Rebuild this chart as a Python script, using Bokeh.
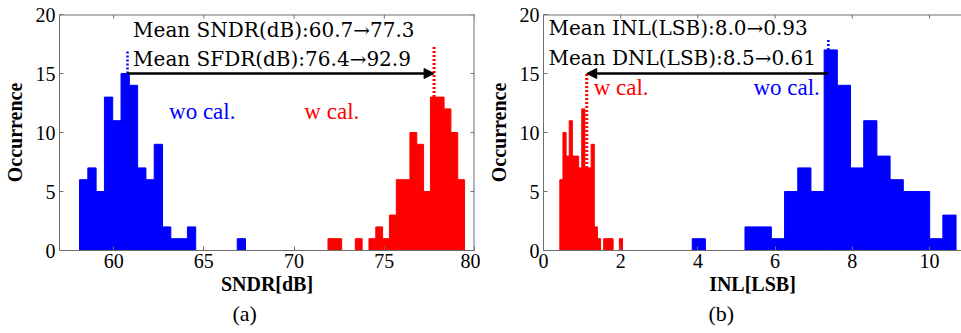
import numpy as np
from bokeh.plotting import figure
from bokeh.models import Range1d, Label, Arrow, NormalHead, FixedTicker, Title
from bokeh.layouts import row
from bokeh.embed import file_html
from bokeh.resources import INLINE

# ---------------- data ----------------
# (a) SNDR histograms: first bin edge, bin width, counts
sndr_wo_start = 58.11
sndr_wo_width = 0.46
sndr_wo_counts = [6, 7, 5, 13, 11, 15, 14, 7, 6, 9, 2, 1, 1, 2, 0, 0, 0, 0, 0, 1]
sndr_w_start = 71.88
sndr_w_width = 0.3785
sndr_w_counts = [1, 1, 0, 0, 1, 0, 1, 2, 1, 3, 6, 6, 10, 9, 5, 13, 13, 12, 10, 6]

# (b) INL histograms
inl_wo_start = 3.853
inl_wo_width = 0.3418
inl_wo_counts = [1, 0, 0, 0, 2, 2, 1, 5, 7, 5, 17, 14, 7, 11, 8, 6, 5, 5, 1, 3]
inl_w_start = 0.423
inl_w_width = 0.0812
inl_w_counts = [6, 10, 8, 11, 8, 8, 7, 12, 7, 7, 9, 2, 1, 0, 1, 1, 1, 0, 0, 1]

# marker (dotted) lines: x position, bottom, top
sndr_wo_mark = (60.77, 15, 16.9)
sndr_w_mark = (77.76, 13, 17.4)
inl_wo_mark = (7.38, 17, 17.9)
inl_w_mark = (1.12, 7, 15.0)
arrow_y = 15

sndr_range = (57, 80)
inl_range = (0, 10.83)
sndr_ticks = [60, 65, 70, 75, 80]
inl_ticks = [0, 2, 4, 6, 8, 10]
y_ticks = [0, 5, 10, 15, 20]

sndr_text = ["Mean SNDR(dB):60.7\u219277.3", "Mean SFDR(dB):76.4\u219292.9"]
inl_text = ["Mean INL(LSB):8.0\u21920.93", "Mean DNL(LSB):8.5\u21920.61"]

BLUE = "#0000ff"
RED = "#ff0000"
AXC = "#6e6e6e"
FONT = "Liberation Serif"
MEAN_FONT = "DejaVu Serif"
PX_PER_Y = 11.8


def edges(start, width, counts):
    e = start + width * np.arange(len(counts) + 1)
    return e[:-1], e[1:]


def style_axis(ax, ticks):
    ax.ticker = FixedTicker(ticks=ticks)
    ax.axis_line_color = AXC
    ax.axis_line_width = 1
    ax.major_tick_line_color = AXC
    ax.major_tick_in = 4
    ax.major_tick_out = 0
    ax.minor_tick_line_color = None
    ax.major_label_text_font = FONT
    ax.major_label_text_color = "black"
    ax.major_label_text_font_size = "20px"


def make_fig(width, xr, border_left, border_right, xticks, xlabel, right_box, sub, sub_offset):
    p = figure(width=width, height=333, x_range=Range1d(*xr), y_range=Range1d(0, 20),
               output_backend="svg", toolbar_location=None,
               min_border_left=border_left, min_border_right=border_right,
               min_border_top=14, min_border_bottom=83)
    p.grid.visible = False
    p.outline_line_color = None
    p.background_fill_color = "white"
    p.border_fill_color = "white"
    style_axis(p.xaxis[0], xticks)
    style_axis(p.yaxis[0], y_ticks)
    p.xaxis[0].major_label_standoff = 3
    p.yaxis[0].major_label_standoff = 4
    for ax, lab in ((p.xaxis[0], xlabel), (p.yaxis[0], "Occurrence")):
        ax.axis_label = lab
        ax.axis_label_text_font = FONT
        ax.axis_label_text_font_size = "20px"
        ax.axis_label_text_font_style = "bold"
        ax.axis_label_text_color = "black"
    p.xaxis[0].axis_label_standoff = 2
    p.yaxis[0].axis_label_standoff = 7
    p.add_layout(Title(text=sub, align="left", offset=sub_offset, standoff=3,
                       text_font=FONT, text_font_size="22px", text_font_style="normal",
                       text_color="black"), "below")

    # box lines with inward ticks on the top (and right) side
    tick_y = 4 / PX_PER_Y
    n = len(xticks)
    p.segment(x0=[xr[0]], y0=[20], x1=[xr[1]], y1=[20], line_color=AXC, line_width=2)
    p.segment(x0=xticks, y0=[20] * n, x1=xticks, y1=[20 - tick_y] * n,
              line_color=AXC, line_width=1)
    if right_box:
        frame_w = width - border_left - border_right
        tick_x = 4 * (xr[1] - xr[0]) / frame_w
        m = len(y_ticks)
        p.segment(x0=[xr[1]], y0=[0], x1=[xr[1]], y1=[20], line_color=AXC, line_width=2)
        p.segment(x0=[xr[1]] * m, y0=y_ticks, x1=[xr[1] - tick_x] * m, y1=y_ticks,
                  line_color=AXC, line_width=1)
    return p


def hist(p, start, width, counts, color):
    l, r = edges(start, width, counts)
    p.quad(left=l, right=r, bottom=0, top=counts, fill_color=color,
           line_color=color, line_width=1)


def mark(p, m, color, lw):
    p.segment(x0=[m[0]], y0=[m[1]], x1=[m[0]], y1=[m[2]], line_color=color,
              line_width=lw, line_dash="2 2")


def label(p, x, y, text, size, color="black", align="left", font=FONT):
    p.add_layout(Label(x=x, y=y, text=text, text_font=font, text_font_size=size,
                       text_color=color, text_align=align, text_baseline="middle"))


def arrow(p, x0, x1, y):
    p.add_layout(Arrow(end=NormalHead(size=10, fill_color="black", line_color="black"),
                       x_start=x0, y_start=y, x_end=x1, y_end=y,
                       line_color="black", line_width=2.5))


# ---------------- (a) ----------------
p1 = make_fig(480, sndr_range, 57, 6, sndr_ticks, "SNDR[dB]", True, "(a)", 173)
hist(p1, sndr_wo_start, sndr_wo_width, sndr_wo_counts, BLUE)
hist(p1, sndr_w_start, sndr_w_width, sndr_w_counts, RED)
mark(p1, sndr_wo_mark, BLUE, 2.5)
mark(p1, sndr_w_mark, RED, 3)
arrow(p1, sndr_wo_mark[0], sndr_w_mark[0], arrow_y)
label(p1, 61.08, 18.72, sndr_text[0], "20px", font=MEAN_FONT)
label(p1, 61.08, 16.2, sndr_text[1], "20px", font=MEAN_FONT)
label(p1, 63.07, 11.82, "wo cal.", "23px", BLUE)
label(p1, 70.57, 11.82, "w cal.", "23px", RED)

# ---------------- (b) ----------------
p2 = make_fig(481, inl_range, 63, 0, inl_ticks, "INL[LSB]", False, "(b)", 165)
hist(p2, inl_w_start, inl_w_width, inl_w_counts, RED)
hist(p2, inl_wo_start, inl_wo_width, inl_wo_counts, BLUE)
mark(p2, inl_wo_mark, BLUE, 2.5)
mark(p2, inl_w_mark, RED, 3)
arrow(p2, inl_wo_mark[0], inl_w_mark[0], arrow_y)
label(p2, 0.13, 18.85, inl_text[0], "20px", font=MEAN_FONT)
label(p2, 0.13, 16.35, inl_text[1], "20px", font=MEAN_FONT)
label(p2, 1.30, 13.8, "w cal.", "23px", RED)
label(p2, 7.16, 13.8, "wo cal.", "23px", BLUE, align="right")

layout = row(p1, p2)
open("out.html", "w").write(file_html(layout, INLINE))
